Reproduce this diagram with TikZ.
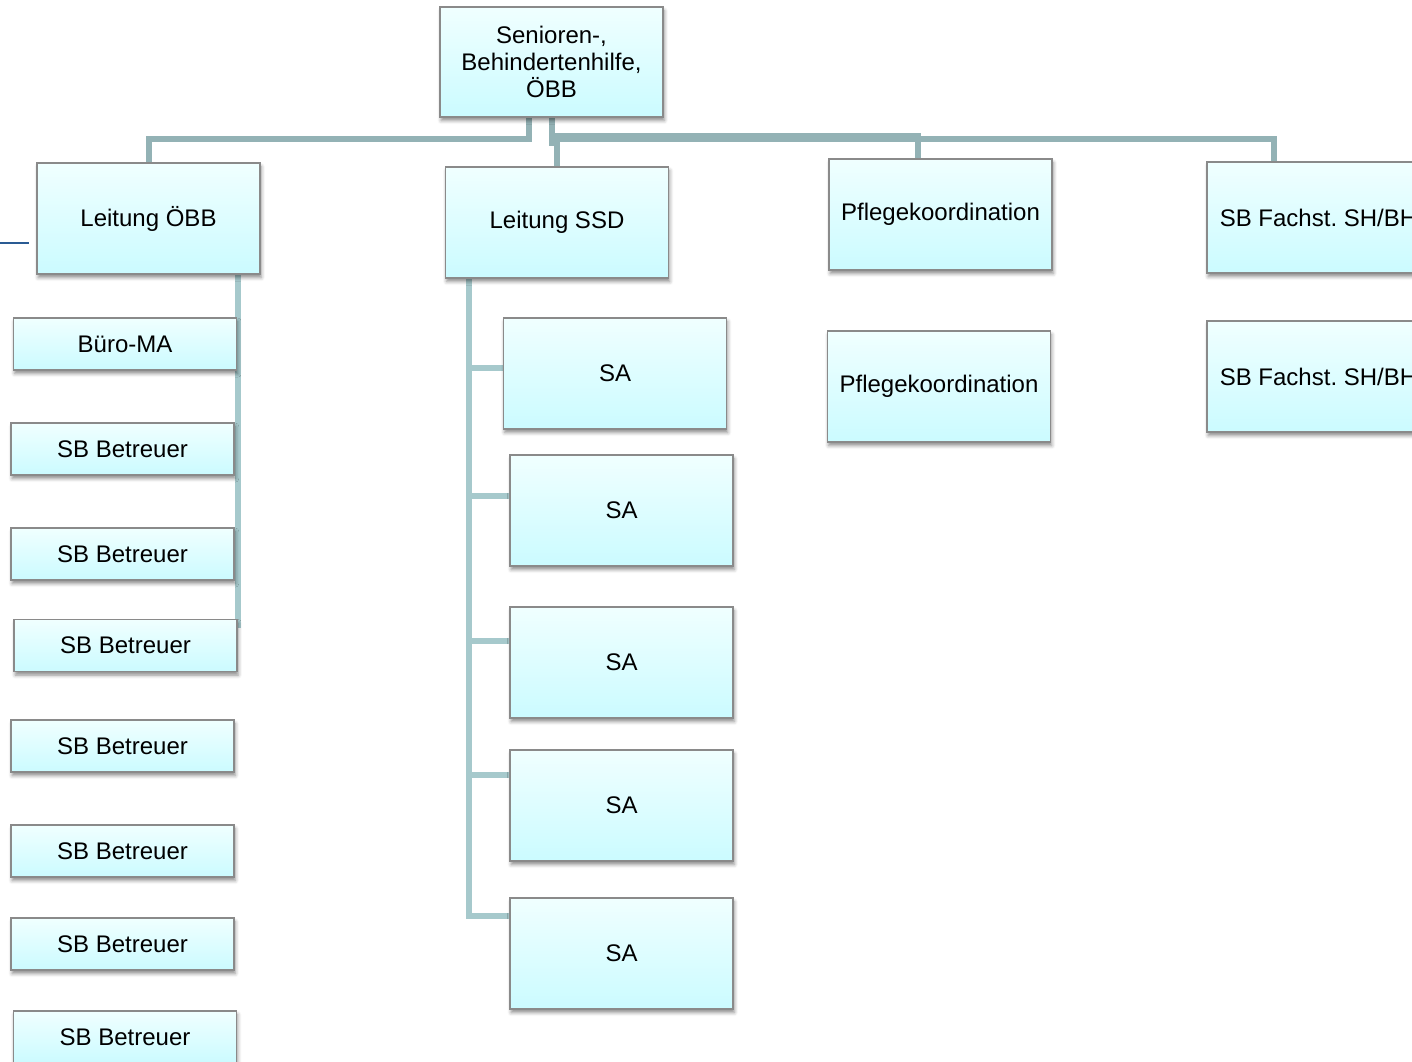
\documentclass[tikz,border=0pt]{standalone}
\usepackage{fontspec}
\setmainfont{Liberation Sans}
\usetikzlibrary{shadows.blur}
\frenchspacing
\pgfdeclarelayer{bg}
\pgfsetlayers{bg,main}
\definecolor{boxtop}{HTML}{F0FFFF}
\definecolor{boxbot}{HTML}{CBFBFF}
\definecolor{boxline}{HTML}{8A8A8A}
\definecolor{connA}{HTML}{93B2B5}
\definecolor{connB}{HTML}{A6C9CC}
\definecolor{blueline}{HTML}{2A5B93}
\tikzset{
  orgbox/.style={draw=boxline, line width=0.7pt, top color=boxtop, bottom color=boxbot,
    minimum width=111.5pt, inner sep=0pt, font=\fontsize{12}{13.5}\selectfont\frenchspacing, align=center,
    blur shadow={shadow xshift=0.6pt, shadow yshift=-1.8pt, shadow blur radius=1.8pt, shadow opacity=45}},
  tallbox/.style={orgbox, minimum height=55.5pt},
  flatbox/.style={orgbox, minimum height=26pt},
  connA/.style={draw=connA, line width=3pt},
  connB/.style={draw=connB, line width=3pt}
}
\begin{document}
\begin{tikzpicture}[x=0.5pt,y=-0.5pt]
\clip (0,0) rectangle (1412,1061);

% top level
\node[orgbox, minimum height=55pt] (top) at (551.5,62) {Senioren-,\\Behindertenhilfe,\\ÖBB};

% second level
\node[tallbox] (lobb) at (148.5,218.5) {Leitung ÖBB};
\node[tallbox] (lssd) at (557,222.5) {Leitung SSD};
\node[tallbox] (pk1) at (940.5,214.5) {Pflegekoordination};
\node[tallbox] (sbf1) at (1318.5,217.5) {SB Fachst. SH/BH};
\node[tallbox] (pk2) at (939,386.5) {Pflegekoordination};
\node[tallbox] (sbf2) at (1318.5,376.5) {SB Fachst. SH/BH};

% SA column
\node[tallbox] (sa1) at (615,373.5) {SA};
\node[tallbox] (sa2) at (621.5,510.5) {SA};
\node[tallbox] (sa3) at (621.5,662.5) {SA};
\node[tallbox] (sa4) at (621.5,805.5) {SA};
\node[tallbox] (sa5) at (621.5,953.5) {SA};

% left column
\node[flatbox] (buero) at (125,344) {Büro-MA};
\node[flatbox] (sb1) at (122.5,449) {SB Betreuer};
\node[flatbox] (sb2) at (122.5,554) {SB Betreuer};
\node[flatbox] (sb3) at (125.5,645.5) {SB Betreuer};
\node[flatbox] (sb4) at (122.5,746) {SB Betreuer};
\node[flatbox] (sb5) at (122.5,851) {SB Betreuer};
\node[flatbox] (sb6) at (122.5,944) {SB Betreuer};
\node[flatbox] (sb7) at (125,1037) {SB Betreuer};

% small blue line at left
\coordinate (bl1) at (0,243);
\coordinate (bl2) at (29,243);
\draw[blueline, line width=0.8pt] (bl1) -- (bl2);

\begin{pgfonlayer}{bg}
  % top connectors
  \draw[connA] ([xshift=-11.5pt]top.south) -- ++(0,21.5) -| (lobb.north);
  \draw[connA] (top.south) -- ++(0,18) -| ([xshift=-11.25pt]pk1.north);
  \draw[connA] (top.south) -- ++(0,21) -| ([xshift=-22.25pt]sbf1.north);
  \draw[connA] (top.south) -- ++(0,25) -| (lssd.north);
  % Leitung ÖBB vertical
  \draw[connB] ([xshift=44.75pt]lobb.south) -- ++(0,353);
  % Leitung SSD tree
  \draw[connB] ([xshift=-44pt]lssd.south) |- ([yshift=18.75pt]sa5.west);
  \draw[connB] ([xshift=-44pt]lssd.south) |- ([yshift=2.75pt]sa1.west);
  \draw[connB] ([xshift=-44pt]lssd.south) |- ([yshift=7.25pt]sa2.west);
  \draw[connB] ([xshift=-44pt]lssd.south) |- ([yshift=10.75pt]sa3.west);
  \draw[connB] ([xshift=-44pt]lssd.south) |- ([yshift=15.25pt]sa4.west);
\end{pgfonlayer}
\end{tikzpicture}
\end{document}
